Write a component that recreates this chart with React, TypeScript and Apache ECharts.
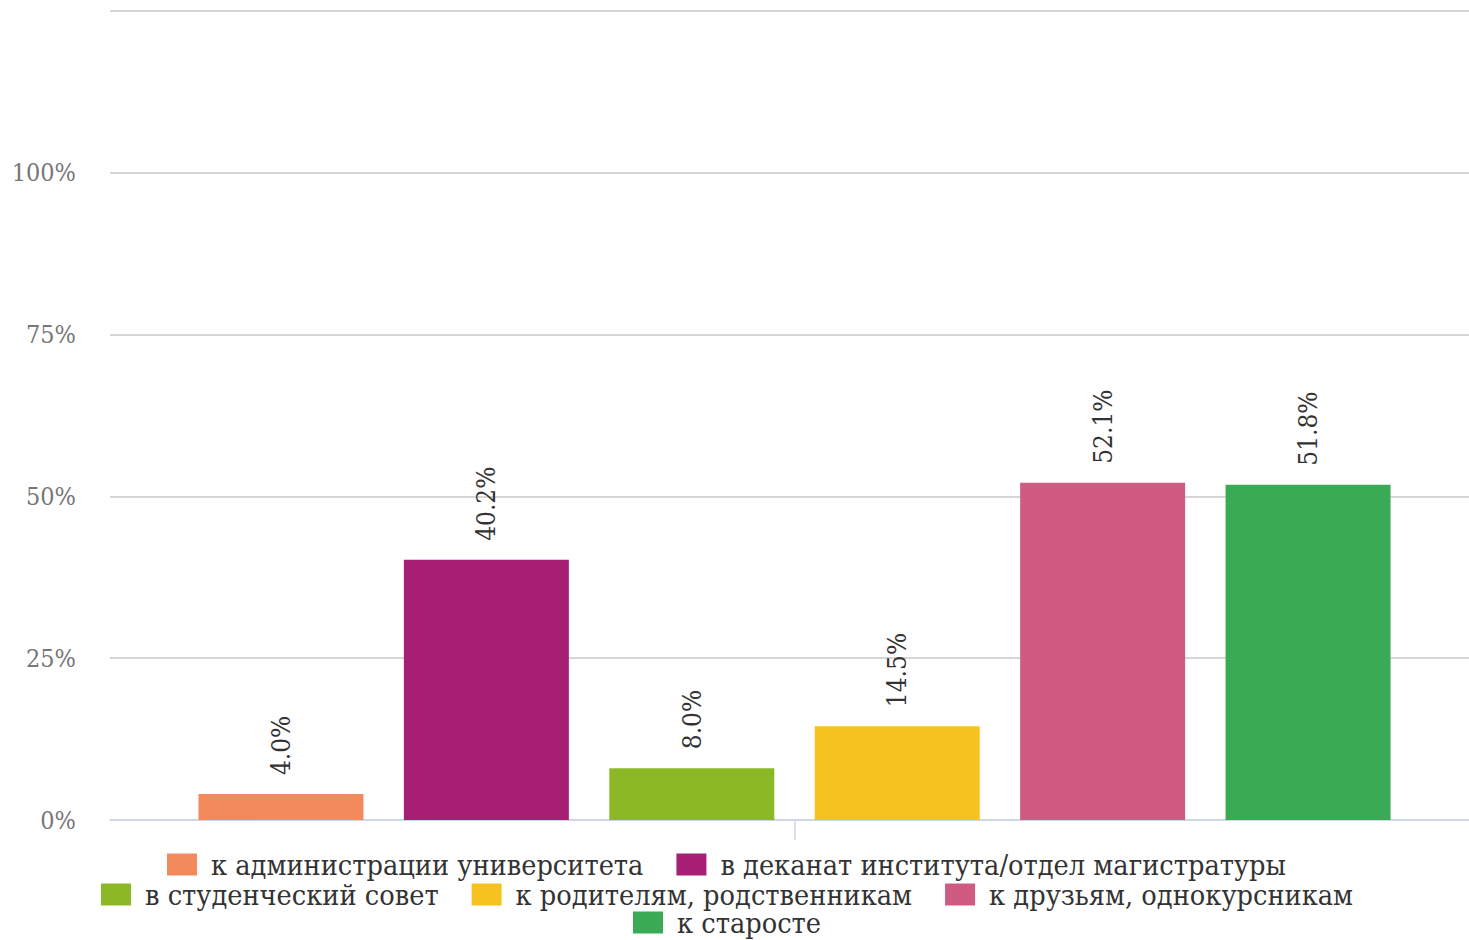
import React, { useEffect, useRef } from "react";
import * as echarts from "echarts";

const seriesNames = [
  "к администрации университета",
  "в деканат института/отдел магистратуры",
  "в студенческий совет",
  "к родителям, родственникам",
  "к друзьям, однокурсникам",
  "к старосте",
];
const seriesValues = [4.0, 40.2, 8.0, 14.5, 52.1, 51.8];
const seriesColors = ["#f28a5c", "#a61f74", "#8db826", "#f6c21f", "#cf5b82", "#3aaa55"];
const categories = [""];
const legendRows = [[0, 1], [2, 3, 4], [5]];
const legendTops = [850, 880, 908];

const FONT = "'DejaVu Serif Condensed', 'DejaVu Serif', serif";
const LEGEND_FONT_SIZE = 28.6;
const LEGEND_CENTER = 727;
const ICON_W = 30;
const TEXT_PAD = 9;
const ITEM_GAP = 33;

function measure(text: string): number {
  const c = document.createElement("canvas").getContext("2d")!;
  c.font = `${LEGEND_FONT_SIZE}px ${FONT}`;
  return c.measureText(text).width;
}

export default function App() {
  const ref = useRef<HTMLDivElement>(null);
  useEffect(() => {
    const chart = echarts.init(ref.current!, undefined, { renderer: "svg" });
    const legends = legendRows.map((row, i) => {
      const w =
        row.reduce((s, j) => s + ICON_W + 5 + TEXT_PAD + measure(seriesNames[j]), 0) +
        ITEM_GAP * (row.length - 1);
      return {
        data: row.map((j) => seriesNames[j]),
        left: Math.round(LEGEND_CENTER - w / 2),
        top: legendTops[i],
        padding: 0,
        icon: "rect",
        itemWidth: ICON_W,
        itemHeight: 22,
        itemGap: ITEM_GAP,
        selectedMode: false,
        textStyle: {
          fontFamily: FONT,
          fontSize: LEGEND_FONT_SIZE,
          lineHeight: 28,
          color: "#333333",
          padding: [0, 0, 0, TEXT_PAD],
        },
      };
    });
    chart.setOption({
      animation: false,
      textStyle: { fontFamily: FONT },
      grid: { left: 110, right: 0, top: 11, bottom: 120, containLabel: false },
      xAxis: {
        type: "category",
        data: categories,
        axisLine: { lineStyle: { color: "#ccd6eb", width: 1.5 } },
        axisTick: { show: true, alignWithLabel: true, length: 20, lineStyle: { color: "#ccd6eb", width: 1.5 } },
        axisLabel: { show: false },
      },
      yAxis: {
        type: "value",
        min: 0,
        max: 125,
        interval: 25,
        axisLine: { show: false },
        axisTick: { show: false },
        splitLine: { lineStyle: { color: "#c8c8c8", width: 1.5 } },
        axisLabel: {
          fontFamily: FONT,
          fontSize: 25,
          color: "#777777",
          margin: 34,
          formatter: (v: number) => (v >= 125 ? "" : v + "%"),
        },
      },
      legend: legends,
      series: seriesNames.map((name, i) => ({
        type: "bar",
        name,
        data: [seriesValues[i]],
        barWidth: 165,
        barGap: "24.5%",
        itemStyle: { color: seriesColors[i] },
        label: {
          show: true,
          position: "top",
          rotate: 90,
          align: "left",
          verticalAlign: "middle",
          distance: 19,
          fontFamily: FONT,
          fontSize: 26,
          color: "#333333",
          formatter: (p: any) => Number(p.value).toFixed(1) + "%",
        },
      })),
    });
    return () => chart.dispose();
  }, []);
  return (
    <div
      ref={ref}
      style={{ position: "fixed", left: 0, top: 0, width: 1479, height: 940, background: "#fff" }}
    />
  );
}
